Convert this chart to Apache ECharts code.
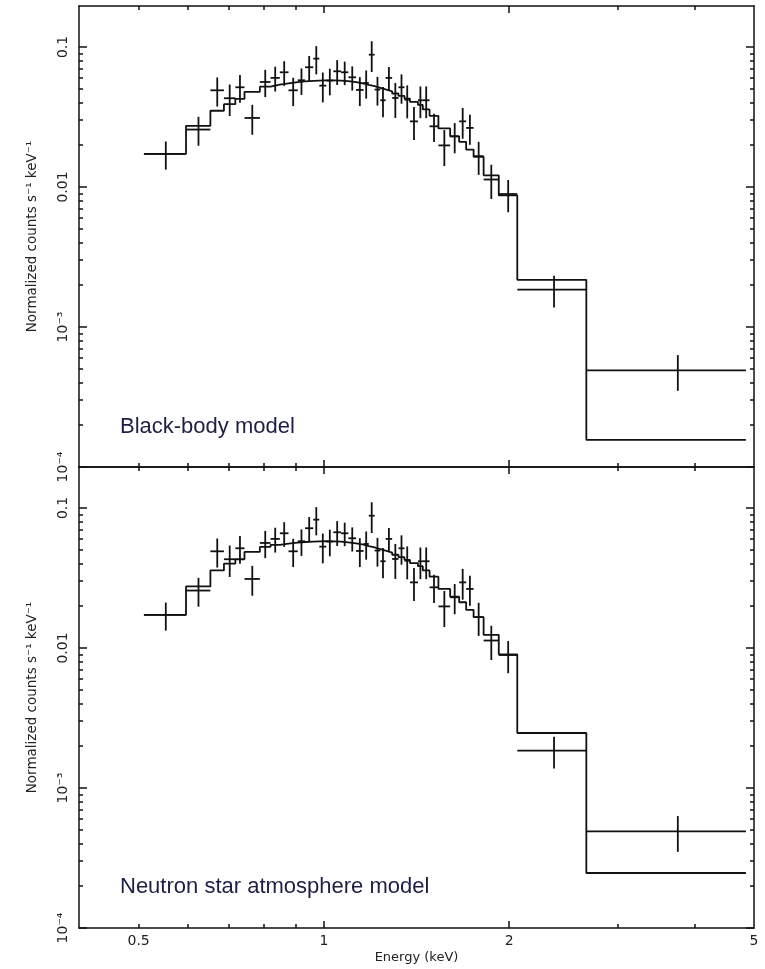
<!DOCTYPE html>
<html>
<head>
<meta charset="utf-8">
<script src="https://cdn.jsdelivr.net/npm/echarts@6/dist/echarts.min.js"></script>
<style>
  html, body { margin: 0; padding: 0; background: #fff; }
  #spec { width: 765px; height: 969px; }
</style>
</head>
<body>
<div id="spec"></div>
<script>
// bin edges in keV (40 bins)
var binEdges = [0.510, 0.597, 0.654, 0.688, 0.718, 0.743, 0.787, 0.819, 0.848, 0.876,
  0.907, 0.932, 0.961, 0.983, 1.009, 1.036, 1.066, 1.096, 1.128, 1.160,
  1.183, 1.209, 1.235, 1.260, 1.291, 1.322, 1.352, 1.380, 1.422, 1.448,
  1.485, 1.535, 1.604, 1.659, 1.703, 1.751, 1.818, 1.924, 2.062, 2.67, 4.85];
// normalized counts s^-1 keV^-1 and 1-sigma errors
var counts = [0.0172, 0.0257, 0.0490, 0.0430, 0.0515, 0.0311, 0.0562, 0.0601, 0.0659, 0.0490,
  0.0578, 0.0716, 0.0825, 0.0529, 0.0575, 0.0670, 0.0659, 0.0607, 0.0493, 0.0553,
  0.0880, 0.0496, 0.0416, 0.0601, 0.0432, 0.0515, 0.0420, 0.0294, 0.0416, 0.0416,
  0.0271, 0.0198, 0.0230, 0.0294, 0.0264, 0.0166, 0.0113, 0.0089, 0.00185, 0.00049];
var countErr = [0.0039, 0.0060, 0.0115, 0.0109, 0.0116, 0.0075, 0.0124, 0.0121, 0.0132, 0.0112,
  0.0124, 0.0145, 0.0188, 0.0127, 0.0124, 0.0135, 0.0126, 0.0119, 0.0115, 0.0126,
  0.0218, 0.0115, 0.0102, 0.0117, 0.0121, 0.0122, 0.0111, 0.0078, 0.0106, 0.0106,
  0.0062, 0.0057, 0.0056, 0.0073, 0.0064, 0.0044, 0.0031, 0.0023, 0.00047, 0.00014];
// folded models per bin
var modelBB = [0.0172, 0.0273, 0.0350, 0.0390, 0.0425, 0.0478, 0.0520, 0.0537, 0.0550, 0.0560,
  0.0567, 0.0572, 0.0575, 0.0577, 0.0577, 0.0575, 0.0570, 0.0560, 0.0548, 0.0535,
  0.0524, 0.0510, 0.0497, 0.0482, 0.0465, 0.0447, 0.0428, 0.0405, 0.0385, 0.0358,
  0.0322, 0.0262, 0.0230, 0.0210, 0.0185, 0.0164, 0.0121, 0.0087, 0.00217, 0.000156];
var modelNS = [0.0172, 0.0275, 0.0358, 0.0400, 0.0430, 0.0485, 0.0527, 0.0545, 0.0556, 0.0565,
  0.0571, 0.0575, 0.0577, 0.0578, 0.0577, 0.0574, 0.0568, 0.0558, 0.0546, 0.0533,
  0.0522, 0.0508, 0.0495, 0.0480, 0.0463, 0.0445, 0.0426, 0.0404, 0.0384, 0.0358,
  0.0323, 0.0264, 0.0232, 0.0212, 0.0187, 0.0166, 0.0124, 0.0090, 0.00247, 0.000247];

var xLabelValues = [0.5, 1, 2, 5];
var xMajorTicks = [1, 2];
var xMinorTicks = [0.5, 0.6, 0.7, 0.8, 0.9, 3, 4];
var yLabelValues = [0.0001, 0.001, 0.01, 0.1];
var yLabelTexts = ['10\u207B\u2074', '10\u207B\u00B3', '0.01', '0.1'];
var yMajorTicks = [0.0001, 0.001, 0.01, 0.1];
var yMinorTicks = [0.0002, 0.0003, 0.0004, 0.0005, 0.0006, 0.0007, 0.0008, 0.0009,
  0.002, 0.003, 0.004, 0.005, 0.006, 0.007, 0.008, 0.009,
  0.02, 0.03, 0.04, 0.05, 0.06, 0.07, 0.08, 0.09];
var panelLabels = ['Black-body model', 'Neutron star atmosphere model'];

var ink = '#111';
var axisFont = 'DejaVu Sans';
var lineStyle = { color: ink, width: 1.5 };

function xAxesFor(g, withLabels) {
  var base = { type: 'log', logBase: 10, gridIndex: g, min: 0.4, max: 5,
    splitLine: { show: false }, axisLine: { show: false },
    axisTick: { show: false }, axisLabel: { show: false } };
  var main = Object.assign({}, base, {
    position: 'bottom',
    axisLine: { show: true, lineStyle: lineStyle },
    axisTick: { show: true, inside: true, length: 7, customValues: xMajorTicks, lineStyle: lineStyle }
  });
  if (withLabels) {
    main.axisLabel = { show: true, customValues: xLabelValues, margin: 6,
      fontFamily: axisFont, fontSize: 14, color: '#222',
      formatter: function (v) { return String(Math.round(v * 10) / 10); } };
    main.name = 'Energy (keV)';
    main.nameLocation = 'middle';
    main.nameGap = 23;
    main.nameTextStyle = { fontFamily: axisFont, fontSize: 13, color: '#222' };
  }
  return [
    main,
    Object.assign({}, base, { position: 'bottom',
      axisTick: { show: true, inside: true, length: 4, customValues: xMinorTicks, lineStyle: lineStyle } }),
    Object.assign({}, base, { position: 'top',
      axisLine: { show: true, lineStyle: lineStyle },
      axisTick: { show: true, inside: true, length: 7, customValues: xMajorTicks, lineStyle: lineStyle } }),
    Object.assign({}, base, { position: 'top',
      axisTick: { show: true, inside: true, length: 4, customValues: xMinorTicks, lineStyle: lineStyle } })
  ];
}

function yAxesFor(g) {
  var base = { type: 'log', logBase: 10, gridIndex: g, min: 0.0001, max: 0.196,
    splitLine: { show: false }, axisLine: { show: false },
    axisTick: { show: false }, axisLabel: { show: false } };
  var main = Object.assign({}, base, {
    position: 'left',
    axisLine: { show: true, lineStyle: lineStyle },
    axisTick: { show: true, inside: true, length: 8, customValues: yMajorTicks, lineStyle: lineStyle },
    axisLabel: { show: true, customValues: yLabelValues, rotate: 90, margin: 9,
      fontFamily: axisFont, fontSize: 14, color: '#222',
      formatter: function (v) {
        var k = Math.round(-Math.log10(v));
        return yLabelTexts[4 - k];
      }
    },
    name: 'Normalized counts s\u207B\u00B9 keV\u207B\u00B9',
    nameLocation: 'middle',
    nameGap: 40,
    nameRotate: 90,
    nameTextStyle: { fontFamily: axisFont, fontSize: 13.5, color: '#222' }
  });
  return [
    main,
    Object.assign({}, base, { position: 'left',
      axisTick: { show: true, inside: true, length: 4, customValues: yMinorTicks, lineStyle: lineStyle } }),
    Object.assign({}, base, { position: 'right',
      axisLine: { show: true, lineStyle: lineStyle },
      axisTick: { show: true, inside: true, length: 8, customValues: yMajorTicks, lineStyle: lineStyle } }),
    Object.assign({}, base, { position: 'right',
      axisTick: { show: true, inside: true, length: 4, customValues: yMinorTicks, lineStyle: lineStyle } })
  ];
}

// data crosses: [center, lo, hi, value, value-err, value+err]
var crossData = counts.map(function (c, i) {
  var lo = binEdges[i], hi = binEdges[i + 1];
  return [(lo + hi) / 2, lo, hi, c, c - countErr[i], c + countErr[i]];
});

function stepData(model) {
  return binEdges.map(function (e, i) {
    return [e, model[Math.min(i, model.length - 1)]];
  });
}

function renderCross(params, api) {
  var y = api.value(3);
  var pl = api.coord([api.value(1), y]);
  var ph = api.coord([api.value(2), y]);
  var pc = api.coord([api.value(0), y]);
  var pb = api.coord([api.value(0), api.value(4)]);
  var pt = api.coord([api.value(0), api.value(5)]);
  var st = { stroke: ink, lineWidth: 1.8 };
  return { type: 'group', children: [
    { type: 'line', shape: { x1: pl[0], y1: pl[1], x2: ph[0], y2: ph[1] }, style: st },
    { type: 'line', shape: { x1: pc[0], y1: pb[1], x2: pc[0], y2: pt[1] }, style: st }
  ] };
}

function seriesFor(g, model) {
  var ax = g * 4;
  return [
    { type: 'custom', xAxisIndex: ax, yAxisIndex: ax, renderItem: renderCross,
      encode: { x: [0, 1, 2], y: [3, 4, 5] }, data: crossData, silent: true },
    { type: 'line', xAxisIndex: ax, yAxisIndex: ax, step: 'end', symbol: 'none',
      lineStyle: { color: ink, width: 1.8 }, data: stepData(model), silent: true }
  ];
}

var chart = echarts.init(document.getElementById('spec'));
var option = {
  animation: false,
  backgroundColor: '#fff',
  grid: [
    { left: 79, top: 6, width: 675, height: 461 },
    { left: 79, top: 467, width: 675, height: 461 }
  ],
  xAxis: xAxesFor(0, false).concat(xAxesFor(1, true)),
  yAxis: yAxesFor(0).concat(yAxesFor(1)),
  series: seriesFor(0, modelBB).concat(seriesFor(1, modelNS)),
  graphic: [
    { type: 'text', left: 120, top: 416,
      style: { text: panelLabels[0], font: '22px "Liberation Sans", Arial, sans-serif', fill: '#1d1f45' } },
    { type: 'text', left: 120, top: 876,
      style: { text: panelLabels[1], font: '22px "Liberation Sans", Arial, sans-serif', fill: '#1d1f45' } }
  ]
};
chart.setOption(option);
</script>
</body>
</html>
